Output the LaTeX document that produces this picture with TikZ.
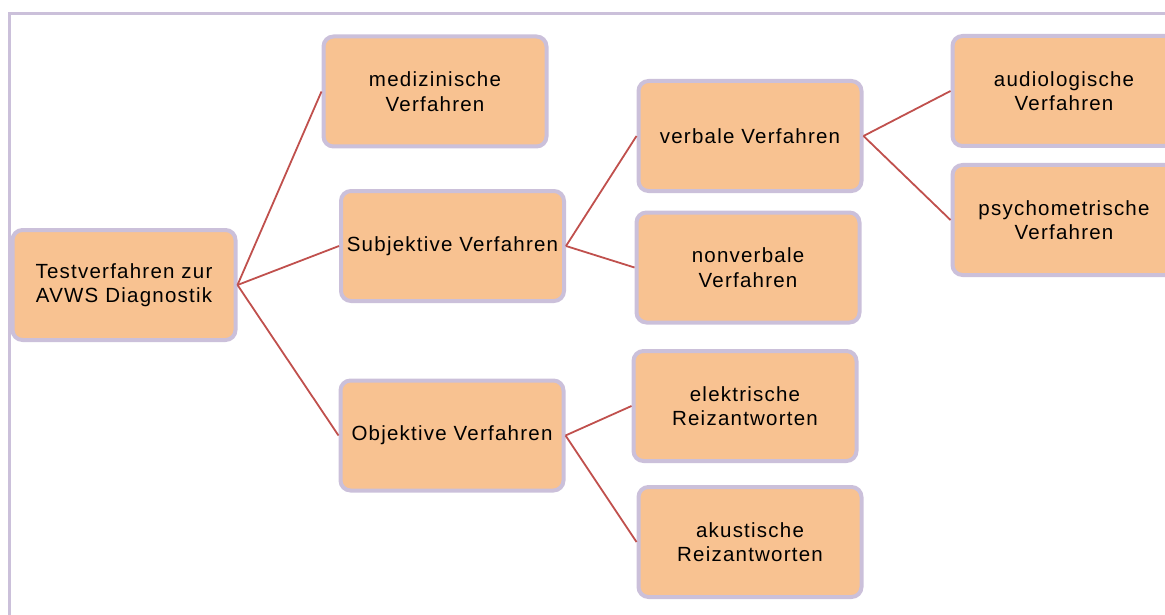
\documentclass[tikz,border=0pt]{standalone}
\usepackage{fontspec}
\setmainfont{Liberation Sans}[LetterSpace=6]
\definecolor{boxfill}{HTML}{F8C291}
\definecolor{boxborder}{HTML}{CBC0DA}
\definecolor{linkcol}{HTML}{C0504D}
\tikzset{
  box/.style={draw=boxborder, line width=4pt, fill=boxfill, rounded corners=10pt,
    minimum width=223pt, minimum height=110pt, align=center, inner sep=0pt,
    font=\fontsize{20.5pt}{24.5pt}\selectfont},
  link/.style={draw=linkcol, line width=1.8pt},
  frame/.style={draw=boxborder, line width=3pt}
}
\begin{document}
\begin{tikzpicture}[x=1pt,y=-1pt]
\useasboundingbox (0,0) rectangle (1165,615);
\draw[frame] (1200,14) -- (9,14) -- (9,640);
\node[box] (root) at (124,285) {Testverfahren zur\\AVWS Diagnostik};
\node[box] (med) at (435,91.5) {medizinische\\Verfahren};
\node[box] (subj) at (452.5,246) {Subjektive Verfahren};
\node[box] (obj) at (452,435.5) {Objektive Verfahren};
\node[box] (verb) at (750,136) {verbale Verfahren};
\node[box] (nonv) at (748,267.5) {nonverbale\\Verfahren};
\node[box] (elek) at (745,406) {elektrische\\Reizantworten};
\node[box] (akus) at (750,542) {akustische\\Reizantworten};
\node[box] (audio) at (1064,91) {audiologische\\Verfahren};
\node[box] (psych) at (1064,220) {psychometrische\\Verfahren};
\draw[link] (root.east) -- (med.west);
\draw[link] (root.east) -- (subj.west);
\draw[link] (root.east) -- (obj.west);
\draw[link] (subj.east) -- (verb.west);
\draw[link] (subj.east) -- (nonv.west);
\draw[link] (obj.east) -- (elek.west);
\draw[link] (obj.east) -- (akus.west);
\draw[link] (verb.east) -- (audio.west);
\draw[link] (verb.east) -- (psych.west);
\end{tikzpicture}
\end{document}
